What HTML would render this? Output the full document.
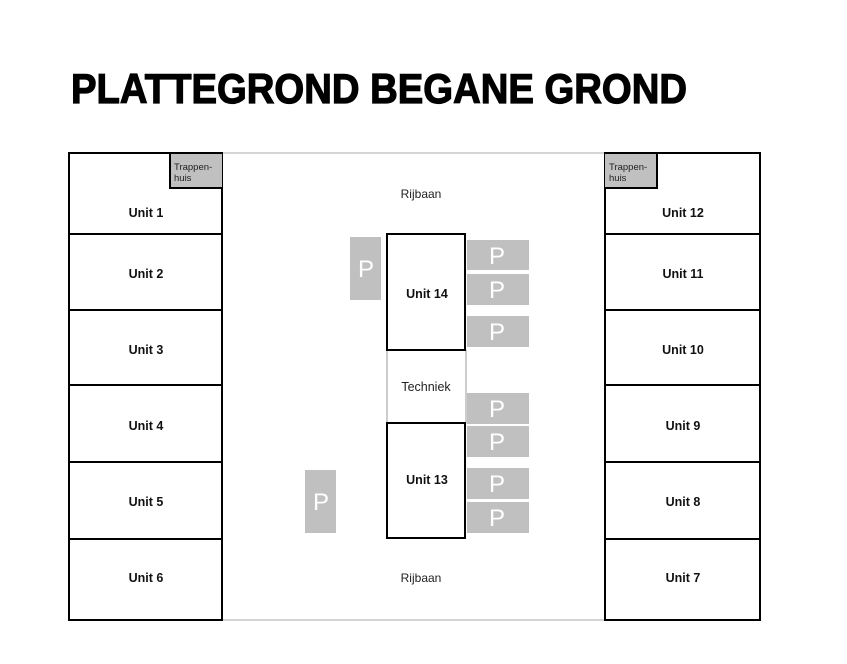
<!DOCTYPE html>
<html><head><style>
html,body{margin:0;padding:0;background:#fff;}
svg{display:block;}
text{font-family:"Liberation Sans",sans-serif;}
.u{font-size:12.5px;font-weight:bold;text-anchor:middle;fill:#111;}
.p{font-size:24px;fill:#fff;text-anchor:middle;}
.t{font-size:9.5px;fill:#222;}
</style></head><body>
<svg width="847" height="664" viewBox="0 0 847 664" xmlns="http://www.w3.org/2000/svg">
<text x="71" y="103" font-size="42" font-weight="bold" textLength="616" lengthAdjust="spacingAndGlyphs" fill="#000" stroke="#000" stroke-width="1.2">PLATTEGROND BEGANE GROND</text>
<rect x="222" y="153" width="383" height="467" fill="none" stroke="#aaa" stroke-width="1"/>
<g fill="none" stroke="#000" stroke-width="2">
<rect x="69" y="153" width="153" height="467"/>
<line x1="69" y1="234" x2="222" y2="234"/>
<line x1="69" y1="310" x2="222" y2="310"/>
<line x1="69" y1="385" x2="222" y2="385"/>
<line x1="69" y1="462" x2="222" y2="462"/>
<line x1="69" y1="539" x2="222" y2="539"/>
<rect x="605" y="153" width="155" height="467"/>
<line x1="605" y1="234" x2="760" y2="234"/>
<line x1="605" y1="310" x2="760" y2="310"/>
<line x1="605" y1="385" x2="760" y2="385"/>
<line x1="605" y1="462" x2="760" y2="462"/>
<line x1="605" y1="539" x2="760" y2="539"/>
</g>
<rect x="170" y="154" width="52" height="34" fill="#c0c0c0"/>
<path d="M170 154 V188 H222" fill="none" stroke="#000" stroke-width="2"/>
<text class="t" x="174" y="170">Trappen-</text><text class="t" x="174" y="181">huis</text>
<rect x="605" y="154" width="52" height="34" fill="#c0c0c0"/>
<path d="M657 154 V188 H605" fill="none" stroke="#000" stroke-width="2"/>
<text class="t" x="609" y="170">Trappen-</text><text class="t" x="609" y="181">huis</text>
<g class="u">
<text x="146" y="217">Unit 1</text>
<text x="146" y="278">Unit 2</text>
<text x="146" y="354">Unit 3</text>
<text x="146" y="430">Unit 4</text>
<text x="146" y="506">Unit 5</text>
<text x="146" y="582">Unit 6</text>
<text x="683" y="217">Unit 12</text>
<text x="683" y="278">Unit 11</text>
<text x="683" y="354">Unit 10</text>
<text x="683" y="430">Unit 9</text>
<text x="683" y="506">Unit 8</text>
<text x="683" y="582">Unit 7</text>
<text x="427" y="298">Unit 14</text>
<text x="427" y="484">Unit 13</text>
</g>
<text x="421" y="198" font-size="12" text-anchor="middle" fill="#222">Rijbaan</text>
<text x="421" y="582" font-size="12" text-anchor="middle" fill="#222">Rijbaan</text>
<rect x="387" y="350" width="79" height="73" fill="#fff" stroke="#999" stroke-width="1"/>
<text x="426" y="391" font-size="12.5" text-anchor="middle" fill="#222">Techniek</text>
<rect x="387" y="234" width="78" height="116" fill="none" stroke="#000" stroke-width="2"/>
<rect x="387" y="423" width="78" height="115" fill="none" stroke="#000" stroke-width="2"/>
<g fill="#c0c0c0">
<rect x="467" y="240" width="62" height="30"/>
<rect x="467" y="274" width="62" height="31"/>
<rect x="467" y="316" width="62" height="31"/>
<rect x="467" y="393" width="62" height="31"/>
<rect x="467" y="426" width="62" height="31"/>
<rect x="467" y="468" width="62" height="31"/>
<rect x="467" y="502" width="62" height="31"/>
<rect x="350" y="237" width="31" height="63"/>
<rect x="305" y="470" width="31" height="63"/>
</g>
<g class="p">
<text x="497" y="264">P</text>
<text x="497" y="298">P</text>
<text x="497" y="340">P</text>
<text x="497" y="417">P</text>
<text x="497" y="450">P</text>
<text x="497" y="492">P</text>
<text x="497" y="526">P</text>
<text x="366" y="277">P</text>
<text x="321" y="510">P</text>
</g>
</svg>
</body></html>
